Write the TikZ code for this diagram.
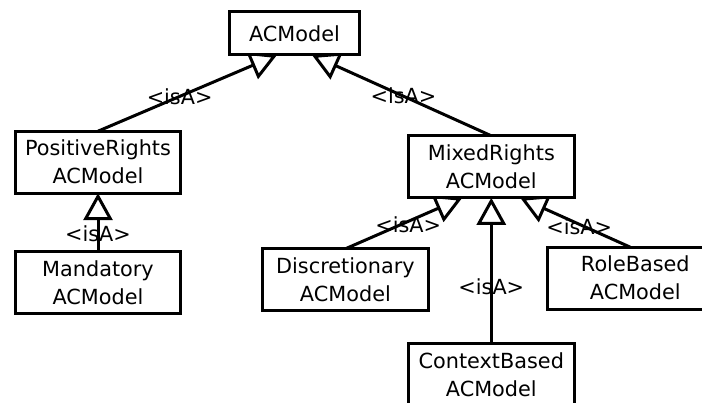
\documentclass[tikz,border=0pt]{standalone}
\usepackage{fontspec}
\setmainfont{DejaVu Sans}
\usetikzlibrary{arrows.meta,backgrounds}
\begin{document}
\begin{tikzpicture}[x=1pt,y=-1pt,
  cls/.style={draw, line width=3pt, fill=white, minimum width=165.5pt,
    minimum height=62pt, outer sep=0pt, inner sep=0pt, align=center,
    font=\fontsize{20.8}{28}\selectfont},
  isa/.style={line width=3pt, -{Triangle[open, length=27pt, width=29pt]}},
  lbl/.style={font=\fontsize{20.8}{24}\selectfont, inner sep=0pt}]
\useasboundingbox (0,0) rectangle (702,403);
\clip (0,0) rectangle (702,403);

% classes
\node[cls, minimum width=130pt, minimum height=43pt] (ac) at (294.5,33.5) {ACModel};
\node[cls] (pos) at (98,162.2) {PositiveRights\\ACModel};
\node[cls] (man) at (98,282.5) {Mandatory\\ACModel};
\node[cls] (mix) at (491.3,166.8) {MixedRights\\ACModel};
\node[cls] (dis) at (345.4,279.8) {Discretionary\\ACModel};
\node[cls, minimum width=176pt] (role) at (635.3,278.2) {RoleBased\\ACModel};
\node[cls] (ctx) at (491.3,374.8) {ContextBased\\ACModel};

% generalisations, drawn beneath the class boxes
\begin{scope}[on background layer]
\draw[isa] (pos.north) -- node[lbl, pos=0.456] {<isA>} ([xshift=-17.5pt]ac.south);
\draw[isa] (mix.north) -- node[lbl, pos=0.49] {<isA>} ([xshift=17.5pt]ac.south);
\draw[isa] (man.north) -- node[lbl, pos=0.30] {<isA>} (pos.south);
\draw[isa] (dis.north) -- node[lbl, pos=0.537, yshift=-3pt] {<isA>} ([xshift=-29pt]mix.south);
\draw[isa] (ctx.north) -- node[lbl, pos=0.388] {<isA>} (mix.south);
\draw[isa] ([xshift=-5pt]role.north) -- node[lbl, pos=0.464, yshift=-2pt] {<isA>} ([xshift=29pt]mix.south);
\end{scope}
\end{tikzpicture}
\end{document}
